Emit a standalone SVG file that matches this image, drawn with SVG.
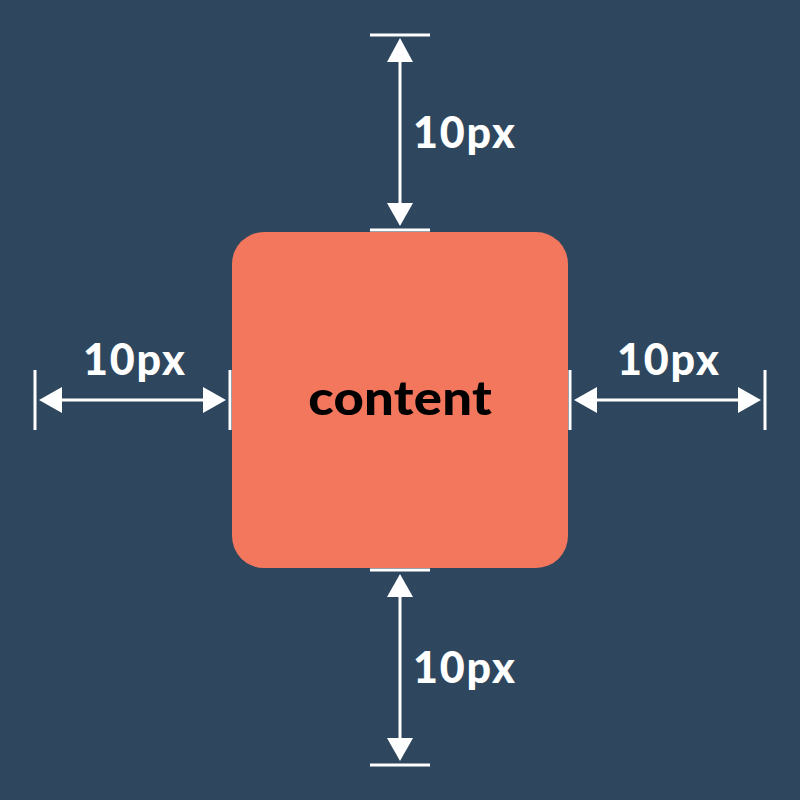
<svg xmlns="http://www.w3.org/2000/svg" width="800" height="800" viewBox="0 0 800 800">
<defs>
<style>
.ln{stroke:#fff;stroke-width:3;fill:none}
.hd{fill:#fff}
.lbl{font-family:Lato,"Open Sans",sans-serif;font-weight:900;font-size:43px;fill:#fff}
.ct{font-family:Lato,"Open Sans",sans-serif;font-weight:900;font-size:47px;fill:#000}
</style>
</defs>
<rect width="800" height="800" fill="#2E475E"/>
<g id="content-box">
<rect x="232" y="232" width="336" height="336" rx="32" fill="#F2775D"/>
<text class="ct" transform="translate(400,415) scale(1.12,1)" x="0" y="0" text-anchor="middle" textLength="164" lengthAdjust="spacing">content</text>
</g>
<g id="connectors">
<line class="ln" x1="370" y1="35" x2="430" y2="35"/>
<line class="ln" x1="370" y1="230" x2="430" y2="230"/>
<line class="ln" x1="400" y1="55" x2="400" y2="208"/>
<polygon class="hd" points="400,38 387,62 413,62"/>
<polygon class="hd" points="400,226 387,203 413,203"/>
<line class="ln" x1="370" y1="570" x2="430" y2="570"/>
<line class="ln" x1="370" y1="765" x2="430" y2="765"/>
<line class="ln" x1="400" y1="590" x2="400" y2="745"/>
<polygon class="hd" points="400,574 387,597 413,597"/>
<polygon class="hd" points="400,761 387,738 413,738"/>
<line class="ln" x1="35" y1="370" x2="35" y2="430"/>
<line class="ln" x1="230" y1="370" x2="230" y2="430"/>
<line class="ln" x1="55" y1="400" x2="208" y2="400"/>
<polygon class="hd" points="39,400 62,387 62,413"/>
<polygon class="hd" points="226,400 203,387 203,413"/>
<line class="ln" x1="570" y1="370" x2="570" y2="430"/>
<line class="ln" x1="765" y1="370" x2="765" y2="430"/>
<line class="ln" x1="590" y1="400" x2="745" y2="400"/>
<polygon class="hd" points="574,400 597,387 597,413"/>
<polygon class="hd" points="761,400 738,387 738,413"/>
</g>
<g id="label-top"><text class="lbl" x="464" y="148" text-anchor="middle" textLength="102" lengthAdjust="spacing">10px</text></g>
<g id="label-bottom"><text class="lbl" x="464" y="683" text-anchor="middle" textLength="102" lengthAdjust="spacing">10px</text></g>
<g id="label-left"><text class="lbl" x="134" y="375" text-anchor="middle" textLength="102" lengthAdjust="spacing">10px</text></g>
<g id="label-right"><text class="lbl" x="668" y="375" text-anchor="middle" textLength="102" lengthAdjust="spacing">10px</text></g>
</svg>
